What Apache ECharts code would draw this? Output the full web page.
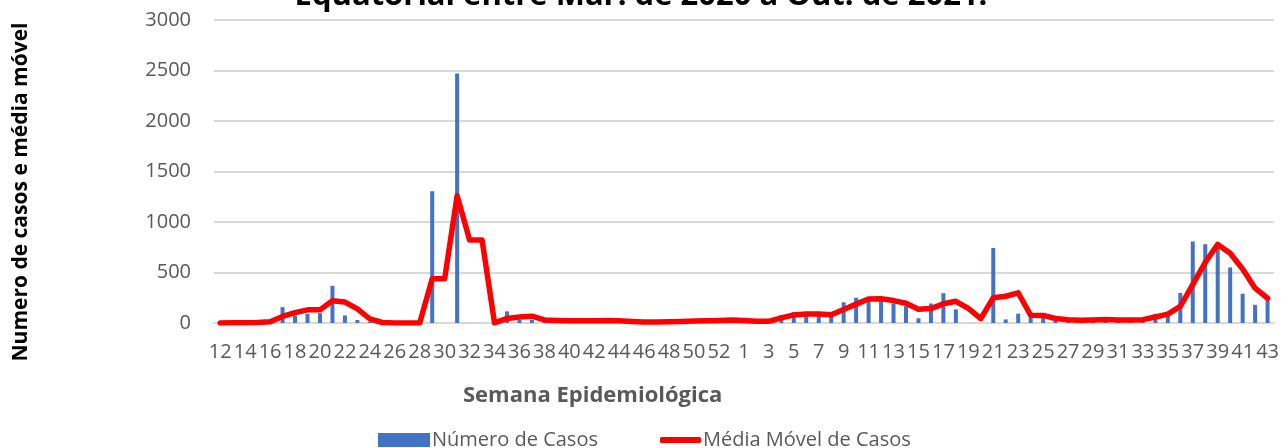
<!DOCTYPE html>
<html>
<head>
<meta charset="utf-8">
<script src="https://cdn.jsdelivr.net/npm/echarts@6/dist/echarts.min.js"></script>
<style>
html,body{margin:0;padding:0;background:#fff;}
#chart{width:1282px;height:448px;}
</style>
</head>
<body>
<div id="chart"></div>
<script>
// Epidemiological weeks: 2020 (12..53) then 2021 (1..43)
const weeks = ['12','13','14','15','16','17','18','19','20','21','22','23','24','25','26','27','28','29','30','31','32','33','34','35','36','37','38','39','40','41','42','43','44','45','46','47','48','49','50','51','52','53',
  '1','2','3','4','5','6','7','8','9','10','11','12','13','14','15','16','17','18','19','20','21','22','23','24','25','26','27','28','29','30','31','32','33','34','35','36','37','38','39','40','41','42','43'];

const casos = [2,3,5,8,25,157,75,92,98,368,75,30,12,0,0,0,0,1305,0,2470,0,0,0,115,30,30,20,15,25,22,20,30,18,5,8,15,12,18,28,20,25,40,
  15,12,25,77,108,93,92,92,205,250,253,233,195,167,47,193,295,135,0,0,743,35,92,70,55,20,25,30,35,40,20,30,40,90,105,297,807,780,740,550,290,180,223];

const mediaMovel = [0,2,3,5,13,65,103,130,130,220,207,140,40,5,0,0,0,437,437,1260,822,822,0,45,60,68,30,25,22,22,23,25,22,15,10,10,12,15,20,22,25,30,
  25,18,17,50,80,90,90,82,133,187,238,240,222,195,137,143,190,215,145,43,250,265,298,77,75,45,33,27,30,35,30,30,33,60,88,165,380,600,778,690,535,345,245];

const yTicks = {min:0, max:3000, interval:500};

const titleText = 'Equatorial entre Mar. de 2020 a Out. de 2021.';
const xTitle = 'Semana Epidemiológica';
const yTitle = 'Numero de casos e média móvel';
const serieBar = 'Número de Casos';
const serieLine = 'Média Móvel de Casos';

const FONT = '"Open Sans", sans-serif';
const chart = echarts.init(document.getElementById('chart'), null, {renderer:'canvas'});
chart.setOption({
  animation:false,
  backgroundColor:'#ffffff',
  title:{
    text:titleText, left:'center', top:-24,
    textStyle:{fontFamily:FONT, fontSize:31, fontWeight:'bold', color:'#000'}
  },
  graphic:[
    {type:'text', left:463, top:385, style:{text:xTitle, font:'bold 22px "Open Sans", sans-serif', fill:'#595959'}},
    {type:'text', x:21, y:192, rotation:Math.PI/2,
     style:{text:yTitle, font:'bold 21px "Open Sans", sans-serif', fill:'#000', align:'center', verticalAlign:'middle'}}
  ],
  legend:[
    {data:[{name:serieBar, icon:'rect'}], left:373, top:425, itemWidth:52, itemHeight:14, itemGap:5,
     textStyle:{fontFamily:FONT, fontSize:20, color:'#595959', padding:[0,0,0,-3]}},
    {data:[{name:serieLine, icon:'roundRect'}], left:655, top:425, itemWidth:41, itemHeight:6,
     textStyle:{fontFamily:FONT, fontSize:20, color:'#595959', padding:[0,0,0,-3]}}
  ],
  grid:{left:214, right:6, top:20, height:303, containLabel:false},
  xAxis:{
    type:'category', data:weeks, boundaryGap:true,
    axisLine:{show:true, lineStyle:{color:'#D9D9D9', width:2}},
    axisTick:{show:false},
    axisLabel:{interval:1, margin:19, fontFamily:FONT, fontSize:20, color:'#595959'},
    splitLine:{show:false}
  },
  yAxis:{
    type:'value', min:yTicks.min, max:yTicks.max, interval:yTicks.interval,
    axisLine:{show:false}, axisTick:{show:false},
    axisLabel:{margin:23, fontFamily:FONT, fontSize:20, color:'#595959', formatter:function(v){return String(v);}},
    splitLine:{lineStyle:{color:'#D9D9D9', width:2}}
  },
  series:[
    {name:serieBar, type:'bar', data:casos, barWidth:4, itemStyle:{color:'#4472C4'}},
    {name:serieLine, type:'line', data:mediaMovel, symbol:'none', showSymbol:false,
     lineStyle:{color:'#FF0000', width:5.5, join:'round', cap:'round'}, itemStyle:{color:'#FF0000'}}
  ]
});
</script>
</body>
</html>
